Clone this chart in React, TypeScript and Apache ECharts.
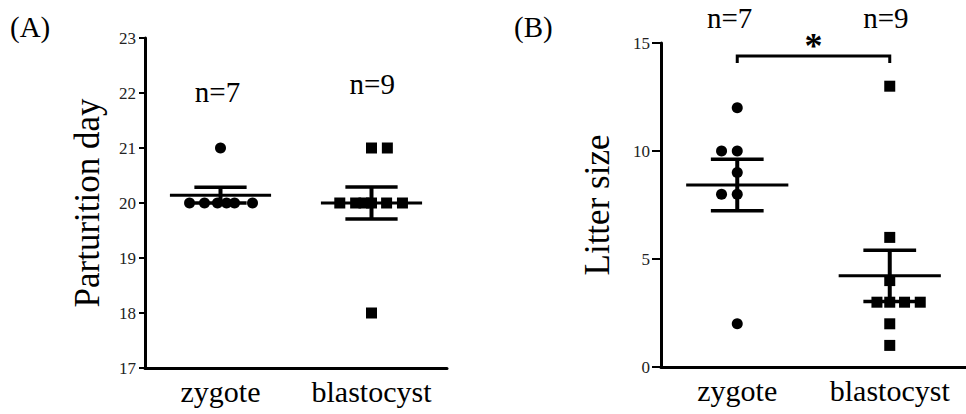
import React, { useEffect, useRef } from "react";
import * as echarts from "echarts";

// ---------- data ----------
const categories = ["zygote", "blastocyst"];

// (A) Parturition day
const zygoteDays = [21, 20, 20, 20, 20, 20, 20];
const zygoteDayJitter = [0, -0.205, -0.106, -0.02, 0.04, 0.093, 0.212];
const blastocystDays = [21, 21, 20, 20, 20, 20, 20, 20, 18];
const blastocystDayJitter = [0, 0.105, -0.21, -0.105, -0.05, 0, 0.1, 0.205, 0];

// (B) Litter size
const zygoteLitter = [12, 10, 10, 9, 8, 8, 2];
const zygoteLitterJitter = [0, -0.103, 0, 0, -0.103, 0, 0];
const blastocystLitter = [13, 6, 4, 3, 3, 3, 3, 2, 1];
const blastocystLitterJitter = [0, 0, 0, -0.084, 0, 0.097, 0.2, 0, 0];

const dayAxis = { min: 17, max: 23, interval: 1 };
const litterAxis = { min: 0, max: 15, interval: 5 };

const significance = "*";

// ---------- helpers ----------
const FONT = "'Liberation Serif', 'Times New Roman', serif";

function meanSem(arr: number[]) {
  const n = arr.length;
  const m = arr.reduce((a, b) => a + b, 0) / n;
  const sd = Math.sqrt(arr.reduce((a, b) => a + (b - m) * (b - m), 0) / (n - 1));
  return [m, sd / Math.sqrt(n)];
}

function pts(vals: number[], jit: number[], idx: number) {
  return vals.map((v, i) => [idx + jit[i], v]);
}

const MEAN_HALF = 0.335;
const CAP_HALF = 0.173;

function meanSemRender(params: any, api: any) {
  const x = api.value(0);
  const m = api.value(1);
  const s = api.value(2);
  const st = { stroke: "#000", lineWidth: 3 };
  const a = api.coord([x - MEAN_HALF, m]);
  const b = api.coord([x + MEAN_HALF, m]);
  const top = api.coord([x, m + s]);
  const bot = api.coord([x, m - s]);
  const tl = api.coord([x - CAP_HALF, m + s]);
  const tr = api.coord([x + CAP_HALF, m + s]);
  const bl = api.coord([x - CAP_HALF, m - s]);
  const br = api.coord([x + CAP_HALF, m - s]);
  return {
    type: "group",
    children: [
      { type: "line", shape: { x1: a[0], y1: a[1], x2: b[0], y2: b[1] }, style: st },
      { type: "line", shape: { x1: top[0], y1: top[1], x2: bot[0], y2: bot[1] }, style: { stroke: "#000", lineWidth: 4 } },
      { type: "line", shape: { x1: tl[0], y1: tl[1], x2: tr[0], y2: tr[1] }, style: { stroke: "#000", lineWidth: 3.5 } },
      { type: "line", shape: { x1: bl[0], y1: bl[1], x2: br[0], y2: br[1] }, style: { stroke: "#000", lineWidth: 3.5 } },
    ],
  };
}

function countLabelRender(params: any, api: any) {
  const p = api.coord([api.value(0), api.value(1)]);
  return {
    type: "text",
    x: p[0],
    y: p[1],
    style: {
      text: "n=" + api.value(2),
      fill: "#000",
      font: `29px ${FONT}`,
      align: "center",
      verticalAlign: "middle",
    },
  };
}

function bracketRender(params: any, api: any) {
  const x0 = api.value(0);
  const x1 = api.value(1);
  const yTop = api.value(2);
  const yEnd = api.value(3);
  const p1 = api.coord([x0, yEnd]);
  const p2 = api.coord([x0, yTop]);
  const p3 = api.coord([x1, yTop]);
  const p4 = api.coord([x1, yEnd]);
  return {
    type: "group",
    children: [
      {
        type: "polyline",
        shape: { points: [p1, p2, p3, p4] },
        style: { stroke: "#000", lineWidth: 3, fill: "none" },
      },
      {
        type: "text",
        x: (p2[0] + p3[0]) / 2,
        y: p2[1] + 8,
        style: {
          text: significance,
          fill: "#000",
          font: `bold 36px ${FONT}`,
          align: "center",
          verticalAlign: "bottom",
        },
      },
    ],
  };
}

function catAxis(gridIndex: number) {
  return {
    type: "category",
    gridIndex,
    data: categories,
    boundaryGap: true,
    axisLine: { onZero: false, lineStyle: { color: "#000", width: 3 } },
    axisTick: { alignWithLabel: true, interval: 0, length: 7, lineStyle: { color: "#000", width: 2 } },
    axisLabel: { interval: 0, color: "#000", fontFamily: FONT, fontSize: 30, margin: 8 },
    splitLine: { show: false },
  };
}

function hiddenX(gridIndex: number) {
  return { type: "value", gridIndex, min: -0.5, max: 1.5, show: false };
}

const dotStyle = { color: "#000", opacity: 1 };

export default function App() {
  const ref = useRef<HTMLDivElement>(null);

  useEffect(() => {
    document.body.style.margin = "0";
    if (!ref.current) return;
    const chart = echarts.init(ref.current, undefined, { renderer: "svg" });

    const [zdM, zdS] = meanSem(zygoteDays);
    const [bdM, bdS] = meanSem(blastocystDays);
    const [zlM, zlS] = meanSem(zygoteLitter);
    const [blM, blS] = meanSem(blastocystLitter);

    const option: any = {
      animation: false,
      backgroundColor: "#fff",
      grid: [
        { left: 145, top: 38, width: 302, height: 330 },
        { left: 661, top: 43, width: 310, height: 324 },
      ],
      xAxis: [catAxis(0), hiddenX(0), catAxis(1), hiddenX(1)],
      yAxis: [
        {
          type: "value",
          gridIndex: 0,
          min: dayAxis.min,
          max: dayAxis.max,
          interval: dayAxis.interval,
          name: "Parturition day",
          nameLocation: "middle",
          nameGap: 40,
          nameTextStyle: { color: "#000", fontFamily: FONT, fontSize: 35 },
          axisLine: { show: true, onZero: false, lineStyle: { color: "#000", width: 3 } },
          axisTick: { show: true, length: 6, lineStyle: { color: "#000", width: 2 } },
          axisLabel: { color: "#222", fontFamily: FONT, fontSize: 17, margin: 9 },
          splitLine: { show: false },
        },
        {
          type: "value",
          gridIndex: 1,
          min: litterAxis.min,
          max: litterAxis.max,
          interval: litterAxis.interval,
          name: "Litter size",
          nameLocation: "middle",
          nameGap: 46,
          nameTextStyle: { color: "#000", fontFamily: FONT, fontSize: 35 },
          axisLine: { show: true, onZero: false, lineStyle: { color: "#000", width: 3 } },
          axisTick: { show: true, length: 9, lineStyle: { color: "#000", width: 2 } },
          axisLabel: { color: "#222", fontFamily: FONT, fontSize: 17, margin: 11 },
          splitLine: { show: false },
        },
      ],
      series: [
        {
          type: "scatter",
          xAxisIndex: 1,
          yAxisIndex: 0,
          symbol: "circle",
          symbolSize: 11,
          itemStyle: dotStyle,
          data: pts(zygoteDays, zygoteDayJitter, 0),
        },
        {
          type: "scatter",
          xAxisIndex: 1,
          yAxisIndex: 0,
          symbol: "rect",
          symbolSize: 11,
          itemStyle: dotStyle,
          data: pts(blastocystDays, blastocystDayJitter, 1),
        },
        {
          type: "custom",
          xAxisIndex: 1,
          yAxisIndex: 0,
          renderItem: meanSemRender,
          data: [
            [0, zdM, zdS],
            [1, bdM, bdS],
          ],
          z: 3,
        },
        {
          type: "custom",
          xAxisIndex: 1,
          yAxisIndex: 0,
          renderItem: countLabelRender,
          data: [
            [0 - 0.02, 22.02, zygoteDays.length],
            [1 + 0.005, 22.16, blastocystDays.length],
          ],
        },
        {
          type: "scatter",
          xAxisIndex: 3,
          yAxisIndex: 1,
          symbol: "circle",
          symbolSize: 11,
          itemStyle: dotStyle,
          data: pts(zygoteLitter, zygoteLitterJitter, 0),
        },
        {
          type: "scatter",
          xAxisIndex: 3,
          yAxisIndex: 1,
          symbol: "rect",
          symbolSize: 11,
          itemStyle: dotStyle,
          data: pts(blastocystLitter, blastocystLitterJitter, 1),
        },
        {
          type: "custom",
          xAxisIndex: 3,
          yAxisIndex: 1,
          renderItem: meanSemRender,
          data: [
            [0, zlM, zlS],
            [1, blM, blS],
          ],
          z: 3,
        },
        {
          type: "custom",
          xAxisIndex: 3,
          yAxisIndex: 1,
          renderItem: countLabelRender,
          data: [
            [0 - 0.05, 16.16, zygoteLitter.length],
            [1 - 0.025, 16.16, blastocystLitter.length],
          ],
        },
        {
          type: "custom",
          xAxisIndex: 3,
          yAxisIndex: 1,
          renderItem: bracketRender,
          data: [[0, 1, 14.4, 14.07]],
        },
      ],
      graphic: [
        {
          type: "text",
          left: 10,
          top: 12,
          style: { text: "(A)", fill: "#000", font: `29px ${FONT}` },
        },
        {
          type: "text",
          left: 514,
          top: 12,
          style: { text: "(B)", fill: "#000", font: `29px ${FONT}` },
        },
      ],
    };

    chart.setOption(option);
    return () => chart.dispose();
  }, []);

  return <div ref={ref} style={{ width: 966, height: 414 }} />;
}
